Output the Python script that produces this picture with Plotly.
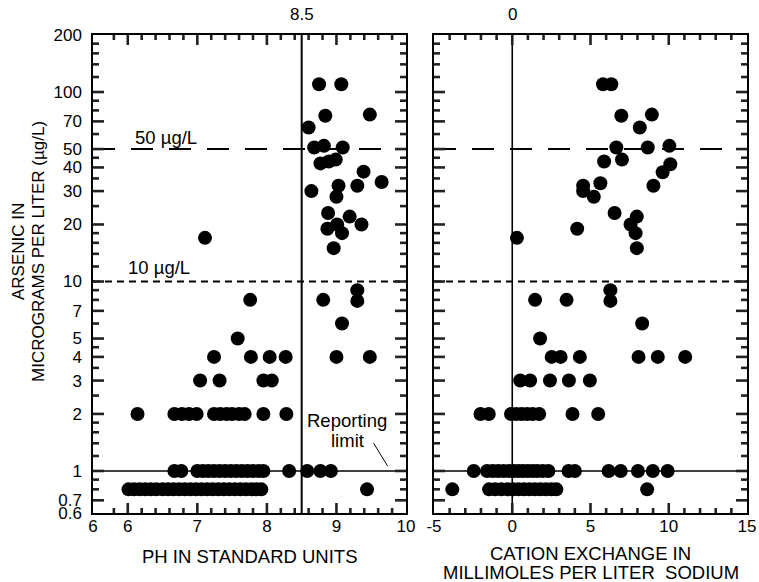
import math
import plotly.graph_objects as go

# ---------------- data ----------------
# Left panel: pH (standard units) vs arsenic (ug/L)
ph_x = [8.75, 9.07, 8.84, 9.48, 8.60, 8.68, 8.82, 9.09, 8.77, 8.89, 8.99, 9.39, 9.65,
        8.64, 9.03, 9.00, 9.30, 8.88, 9.19, 9.01, 8.87, 9.36, 9.08, 8.96, 7.11,
        7.76, 8.81, 9.30, 9.30, 9.08, 7.58,
        7.24, 7.77, 8.04, 8.27, 9.00, 9.48,
        7.04, 7.32, 7.95, 8.07,
        6.14, 6.67, 6.78, 6.88, 6.99, 7.24, 7.33, 7.42, 7.50, 7.60, 7.68, 7.95, 8.28,
        6.67, 6.77, 7.00, 7.08, 7.16, 7.24, 7.32, 7.40, 7.48, 7.56, 7.64, 7.72, 7.80,
        7.88, 7.95, 8.32, 8.58, 8.77, 8.92,
        6.01, 6.09, 6.17, 6.25, 6.33, 6.41, 6.50, 6.58, 6.66, 6.74, 6.82, 6.90, 6.98,
        7.06, 7.14, 7.22, 7.30, 7.38, 7.46, 7.54, 7.62, 7.70, 7.78, 7.85, 7.92, 9.44]
ph_as = [110, 110, 75, 76, 65, 51, 52, 51, 42, 43, 44, 38, 33.5,
         30, 32, 28, 32, 23, 22, 20, 19, 20, 18, 15, 17,
         8, 8, 9, 7.9, 6, 5,
         4, 4, 4, 4, 4, 4,
         3, 3, 3, 3,
         2, 2, 2, 2, 2, 2, 2, 2, 2, 2, 2, 2, 2,
         1, 1, 1, 1, 1, 1, 1, 1, 1, 1, 1, 1, 1,
         1, 1, 1, 1, 1, 1,
         0.8, 0.8, 0.8, 0.8, 0.8, 0.8, 0.8, 0.8, 0.8, 0.8, 0.8, 0.8, 0.8,
         0.8, 0.8, 0.8, 0.8, 0.8, 0.8, 0.8, 0.8, 0.8, 0.8, 0.8, 0.8, 0.8]

# Right panel: cation exchange (mmol/L sodium) vs arsenic (ug/L)
cx_x = [5.80, 6.33, 6.97, 8.92, 8.15, 6.65, 8.66, 10.04, 5.87, 7.01, 10.10, 9.61,
        4.53, 4.53, 5.63, 5.21, 9.02, 6.54, 7.96, 7.56, 7.88, 7.96, 4.15, 0.30,
        1.46, 3.47, 6.27, 6.27, 8.30, 1.78,
        2.52, 3.09, 4.32, 8.07, 9.30, 11.05,
        0.51, 1.14, 2.41, 3.62, 4.96,
        -2.03, -1.50, -0.08, 0.25, 0.60, 0.95, 1.30, 1.72, 3.85, 5.49,
        -2.46, -1.61, -1.25, -0.90, -0.55, -0.20, 0.10, 0.40, 0.70, 1.00, 1.30, 1.60,
        1.95, 2.31, 3.60, 4.00, 6.16, 6.93, 8.03, 8.98, 9.93,
        -3.83, -1.48, -1.10, -0.70, -0.30, 0.05, 0.40, 0.75, 1.10, 1.45, 1.80, 2.15,
        2.50, 2.82, 8.62]
cx_as = [110, 110, 75, 76, 65, 51, 51, 52, 43, 44, 41.6, 37.7,
         32, 30, 33, 28, 32, 23, 22, 20, 18, 15, 19, 17,
         8, 8, 9, 7.9, 6, 5,
         4, 4, 4, 4, 4, 4,
         3, 3, 3, 3, 3,
         2, 2, 2, 2, 2, 2, 2, 2, 2, 2,
         1, 1, 1, 1, 1, 1, 1, 1, 1, 1, 1, 1,
         1, 1, 1, 1, 1, 1, 1, 1, 1,
         0.8, 0.8, 0.8, 0.8, 0.8, 0.8, 0.8, 0.8, 0.8, 0.8, 0.8, 0.8,
         0.8, 0.8, 0.8]

# Axis ticks
y_ticks = [0.6, 0.7, 1, 2, 3, 4, 5, 7, 10, 20, 30, 40, 50, 70, 100, 200]
y_ticktext = ["0.6", "0.7", "1", "2", "3", "4", "5", "7", "10", "20", "30", "40",
              "50", "70", "100", "200"]
y_minor = [0.8, 0.9, 1.2, 1.4, 1.6, 1.8, 2.5, 3.5, 4.5, 6, 8, 9, 12, 14, 16, 18,
           25, 35, 45, 60, 80, 90, 120, 140, 160, 180]
ph_ticks = [5.5, 6, 7, 8, 9, 10]
ph_ticktext = ["6", "6", "7", "8", "9", "10"]
ph_minor = [5.8, 6.2, 6.4, 6.6, 6.8, 7.2, 7.4, 7.6, 7.8, 8.2, 8.4, 8.6, 8.8,
            9.2, 9.4, 9.6, 9.8]
cx_ticks = [-5, 0, 5, 10, 15]
cx_ticktext = ["-5", "0", "5", "10", "15"]
cx_minor = [-4, -3, -2, -1, 1, 2, 3, 4, 6, 7, 8, 9, 11, 12, 13, 14]

# Reference levels
mcl_old = 50      # ug/L
mcl_new = 10      # ug/L
report_limit = 1  # ug/L
ph_ref = 8.5
cx_ref = 0

PH_RANGE = [5.5, 10]
CX_RANGE = [-5, 15]
Y_RANGE = [0.6, 200]

FONT = "Liberation Sans, Arial, sans-serif"
FS = 17

W, H = 759, 582
L, R, T, B = 93, 12, 35, 69
PW, PH = W - L - R, H - T - B
LEFT_PX = (93, 406)
RIGHT_PX = (434, 747)


def px(xp):
    return (xp - L) / PW


def py(yp):
    return (H - B - yp) / PH


fig = go.Figure()


def add_hlines(xref, yref, xr):
    fig.add_trace(go.Scatter(x=xr, y=[mcl_old, mcl_old], mode="lines", xaxis=xref, yaxis=yref,
                             line=dict(color="black", width=2, dash="22px,16px"),
                             hoverinfo="skip", showlegend=False))
    fig.add_trace(go.Scatter(x=xr, y=[mcl_new, mcl_new], mode="lines", xaxis=xref, yaxis=yref,
                             line=dict(color="black", width=2, dash="7px,5px"),
                             hoverinfo="skip", showlegend=False))
    fig.add_trace(go.Scatter(x=xr, y=[report_limit, report_limit], mode="lines", xaxis=xref,
                             yaxis=yref, line=dict(color="black", width=1.5),
                             hoverinfo="skip", showlegend=False))


add_hlines("x", "y", PH_RANGE)
add_hlines("x2", "y2", CX_RANGE)

fig.add_trace(go.Scatter(x=[ph_ref, ph_ref], y=Y_RANGE, mode="lines", xaxis="x", yaxis="y",
                         line=dict(color="black", width=2), hoverinfo="skip", showlegend=False))
fig.add_trace(go.Scatter(x=[cx_ref, cx_ref], y=Y_RANGE, mode="lines", xaxis="x2", yaxis="y2",
                         line=dict(color="black", width=1.6), hoverinfo="skip", showlegend=False))

# leader line for "Reporting limit"
fig.add_trace(go.Scatter(x=[9.535, 9.737], y=[1.40, 1.06], mode="lines", xaxis="x", yaxis="y",
                         line=dict(color="black", width=1), hoverinfo="skip", showlegend=False))


# ---- tick marks, inside, on all four sides of each panel (built from the tick lists) ----
def tick_trace(xr, px_range, xmaj, xmin, xref, yref):
    xs, ys = [], []
    x_per_px = (xr[1] - xr[0]) / (px_range[1] - px_range[0])
    ylo, yhi = math.log10(Y_RANGE[0]), math.log10(Y_RANGE[1])
    dec_per_px = (yhi - ylo) / PH

    def add(vals, ylen):
        d = 10 ** (ylen * dec_per_px)
        for v in vals:
            if xr[0] < v < xr[1]:
                xs.extend([v, v, None, v, v, None])
                ys.extend([Y_RANGE[0], Y_RANGE[0] * d, None,
                           Y_RANGE[1], Y_RANGE[1] / d, None])

    def addy(vals, xlen):
        dx = xlen * x_per_px
        for v in vals:
            if Y_RANGE[0] < v < Y_RANGE[1]:
                xs.extend([xr[0], xr[0] + dx, None, xr[1], xr[1] - dx, None])
                ys.extend([v, v, None, v, v, None])

    add(xmaj, 10)
    add(xmin, 5)
    addy(y_ticks, 11)
    addy(y_minor, 6)
    fig.add_trace(go.Scatter(x=xs, y=ys, mode="lines", xaxis=xref, yaxis=yref,
                             line=dict(color="#222222", width=2.6), hoverinfo="skip",
                             showlegend=False))


tick_trace(PH_RANGE, LEFT_PX, ph_ticks, ph_minor, "x", "y")
tick_trace(CX_RANGE, RIGHT_PX, cx_ticks, cx_minor, "x2", "y2")

marker = dict(color="black", size=14, line=dict(width=0))
fig.add_trace(go.Scatter(x=ph_x, y=ph_as, mode="markers", marker=marker, xaxis="x", yaxis="y",
                         showlegend=False))
fig.add_trace(go.Scatter(x=cx_x, y=cx_as, mode="markers", marker=marker, xaxis="x2", yaxis="y2",
                         showlegend=False))

tickfont = dict(family=FONT, size=FS, color="black")
common_ax = dict(showline=True, linecolor="black", linewidth=1.5, mirror=True, ticks="",
                 showgrid=False, zeroline=False, tickfont=tickfont, automargin=False)

fig.update_layout(
    template="simple_white",
    width=W, height=H, autosize=False,
    margin=dict(l=L, r=R, t=T, b=B, autoexpand=False),
    paper_bgcolor="white", plot_bgcolor="white",
    font=dict(family=FONT, size=FS, color="black"),
    xaxis=dict(domain=[px(LEFT_PX[0]), px(LEFT_PX[1])], range=PH_RANGE, tickmode="array",
               tickvals=ph_ticks, ticktext=ph_ticktext, anchor="y", ticklabelstandoff=-3,
               **common_ax),
    xaxis2=dict(domain=[px(RIGHT_PX[0]), px(RIGHT_PX[1])], range=CX_RANGE, tickmode="array",
                tickvals=cx_ticks, ticktext=cx_ticktext, anchor="y2", ticklabelstandoff=-3,
                **common_ax),
    yaxis=dict(type="log", range=[math.log10(Y_RANGE[0]), math.log10(Y_RANGE[1])],
               tickmode="array", tickvals=y_ticks, ticktext=y_ticktext, anchor="x",
               ticklabelstandoff=6, **common_ax),
    yaxis2=dict(type="log", range=[math.log10(Y_RANGE[0]), math.log10(Y_RANGE[1])],
                tickmode="array", tickvals=y_ticks, showticklabels=False, anchor="x2",
                **common_ax),
)

ann = []


def text(x, y, s, xref="paper", yref="paper", xanchor="center", yanchor="middle",
         angle=0, size=FS):
    ann.append(dict(x=x, y=y, xref=xref, yref=yref, text=s, showarrow=False,
                    xanchor=xanchor, yanchor=yanchor, textangle=angle,
                    font=dict(family=FONT, size=size, color="black")))


LS = 18.5
# top reference labels
text(ph_ref, py(14), "8.5", xref="x")
text(cx_ref, py(14), "0", xref="x2")
# in-plot labels
text(6.08, math.log10(57.5), "50 \u00b5g/L", xref="x", yref="y", xanchor="left", size=LS)
text(5.98, math.log10(11.8), "10 \u00b5g/L", xref="x", yref="y", xanchor="left", size=LS)
text(px(347), py(420), "Reporting", size=LS)
text(px(347), py(440), "limit", size=LS)
# axis titles
text(px(249.5), py(556), "PH IN STANDARD UNITS", size=LS)
text(px(590.5), py(553), "CATION EXCHANGE IN", size=LS)
text(px(590.5), py(572), "MILLIMOLES PER LITER  SODIUM", size=LS)
text(px(18), py(252), "ARSENIC IN", angle=-90)
text(px(38), py(252), "MICROGRAMS PER LITER (\u00b5g/L)", angle=-90)

fig.update_layout(annotations=ann)

fig.write_html("out.html", config={"displayModeBar": False},
               post_script="document.body.style.margin='0';document.body.style.overflow='hidden';")
